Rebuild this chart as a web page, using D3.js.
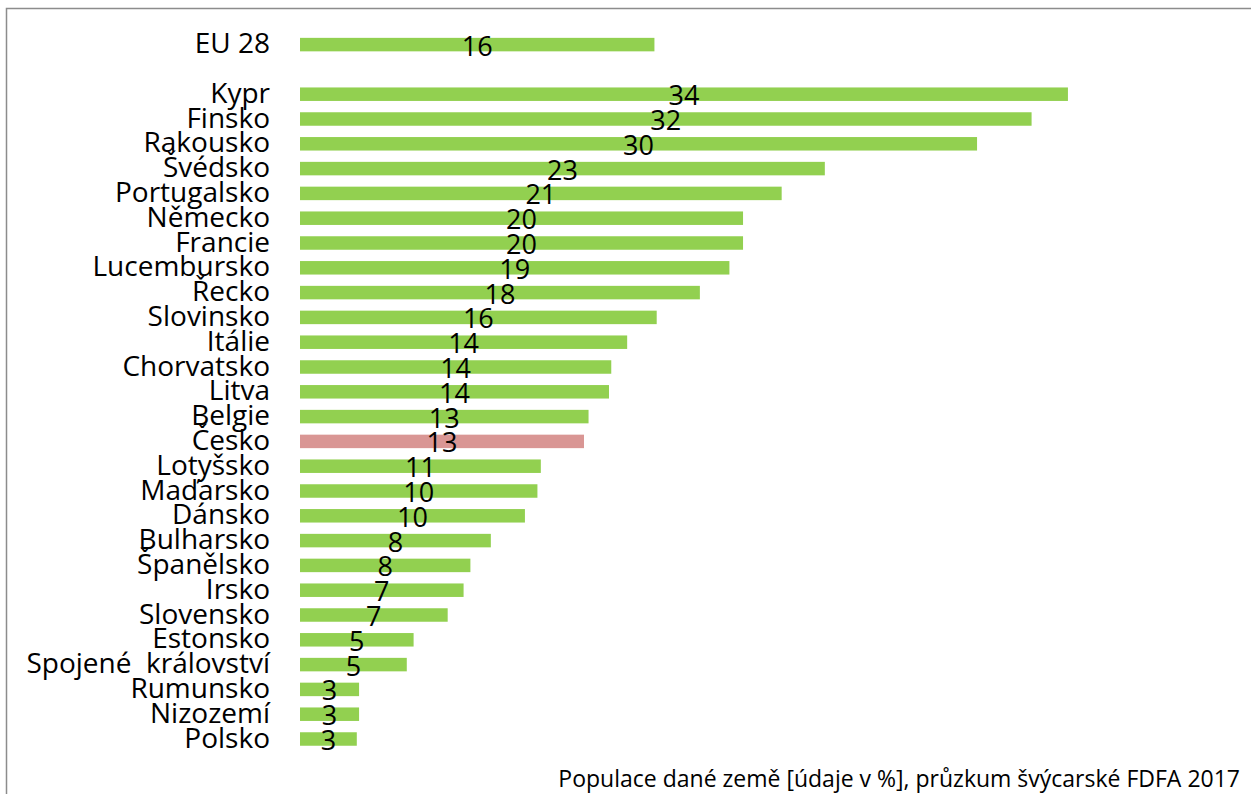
<!DOCTYPE html>
<html>
  <head>
    <meta charset="utf-8">
    <title>Populace dané země</title>
    <script src="https://d3js.org/d3.v7.min.js"></script>
    <style>
      body { margin: 0; background: #fff; }
      text { font-family: "Open Sans", sans-serif; fill: #000; }
    </style>
  </head>
  <body>
    <div id="chart"></div>
    <script>
      // EU average shown on top, separated by an empty row
      const euLabel = "EU 28";
      const euValue = 15.6;
      const euText = "16";

      const countries = [
        "Kypr", "Finsko", "Rakousko", "Švédsko", "Portugalsko", "Německo",
        "Francie", "Lucembursko", "Řecko", "Slovinsko", "Itálie", "Chorvatsko",
        "Litva", "Belgie", "Česko", "Lotyšsko", "Maďarsko", "Dánsko",
        "Bulharsko", "Španělsko", "Irsko", "Slovensko", "Estonsko",
        "Spojené  království", "Rumunsko", "Nizozemí", "Polsko"
      ];
      const values = [
        33.8, 32.2, 29.8, 23.1, 21.2, 19.5,
        19.5, 18.9, 17.6, 15.7, 14.4, 13.7,
        13.6, 12.7, 12.5, 10.6, 10.45, 9.9,
        8.4, 7.5, 7.2, 6.5, 5.0,
        4.7, 2.6, 2.6, 2.5
      ];
      const valueLabels = [
        "34", "32", "30", "23", "21", "20",
        "20", "19", "18", "16", "14", "14",
        "14", "13", "13", "11", "10", "10",
        "8", "8", "7", "7", "5",
        "5", "3", "3", "3"
      ];
      const highlight = "Česko";
      const source = "Populace dané země [údaje v %], průzkum švýcarské FDFA 2017";

      const width = 1251, height = 794;

      const rows = [
        { key: euLabel, label: euLabel, value: euValue, text: euText },
        { key: "_gap", label: "", value: null, text: "" },
        ...countries.map((c, i) => ({ key: c, label: c, value: values[i], text: valueLabels[i] }))
      ];
      const bars = rows.filter(d => d.value !== null);

      const svg = d3.select("#chart")
        .append("svg")
        .attr("width", width)
        .attr("height", height);

      // frame (runs off the right and bottom of the picture)
      svg.append("rect")
        .attr("x", 6.5)
        .attr("y", 8.5)
        .attr("width", 1400)
        .attr("height", 1000)
        .attr("fill", "none")
        .attr("stroke", "#8c8c8c")
        .attr("stroke-width", 1.5);

      const x = d3.scaleLinear()
        .domain([0, 34])
        .range([300, 300 + 34 * 22.72]);

      const y = d3.scaleBand()
        .domain(rows.map(d => d.key))
        .range([32.2, 32.2 + rows.length * 24.8])
        .paddingInner(0.456)
        .paddingOuter(0.228);

      // bars
      svg.append("g")
        .selectAll("rect")
        .data(bars)
        .join("rect")
        .attr("x", x(0))
        .attr("y", d => y(d.key))
        .attr("width", d => x(d.value) - x(0))
        .attr("height", y.bandwidth())
        .attr("fill", d => d.key === highlight ? "#d99694" : "#92d050");

      // category labels
      svg.append("g")
        .selectAll("text")
        .data(rows)
        .join("text")
        .attr("x", 270)
        .attr("y", d => y(d.key) + y.bandwidth() / 2 + 8.5)
        .attr("text-anchor", "end")
        .style("font-size", "28px")
        .style("white-space", "pre")
        .text(d => d.label);

      // value labels, centred on each bar
      svg.append("g")
        .selectAll("text")
        .data(bars)
        .join("text")
        .attr("x", d => (x(0) + x(d.value)) / 2)
        .attr("y", d => y(d.key) + y.bandwidth() / 2 + 11)
        .attr("text-anchor", "middle")
        .style("font-size", "27px")
        .text(d => d.text);

      // source note
      svg.append("text")
        .attr("x", 1240)
        .attr("y", 787)
        .attr("text-anchor", "end")
        .style("font-size", "23px")
        .text(source);
    </script>
  </body>
</html>
